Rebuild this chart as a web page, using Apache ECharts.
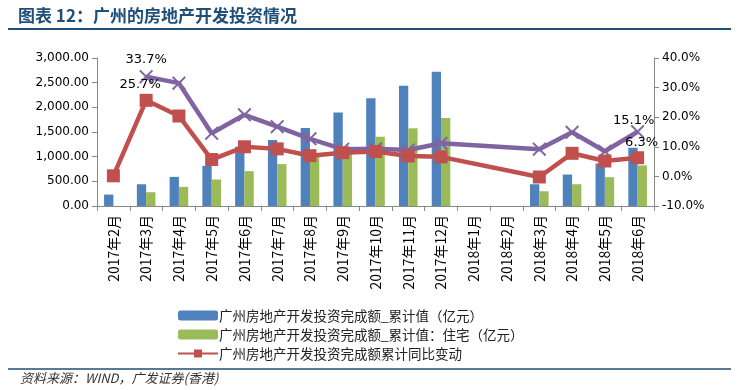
<!DOCTYPE html>
<html><head><meta charset="utf-8">
<script src="https://cdn.jsdelivr.net/npm/echarts@6/dist/echarts.min.js"></script>
<style>html,body{margin:0;padding:0;background:#fff}#c{width:739px;height:390px}</style>
</head><body><div id="c"></div>
<script>
var categories = ['2017年2月','2017年3月','2017年4月','2017年5月','2017年6月','2017年7月','2017年8月','2017年9月','2017年10月','2017年11月','2017年12月','2018年1月','2018年2月','2018年3月','2018年4月','2018年5月','2018年6月'];
var totalValues = [232, 441, 590, 814, 1203, 1337, 1581, 1893, 2185, 2436, 2721, null, null, 441, 638, 862, 1181];
var residentialValues = [null, 279, 387, 537, 706, 849, 1000, 1130, 1404, 1575, 1785, null, null, 299, 441, 584, 822];
var totalYoY = [0.2, 25.7, 20.4, 5.7, 10.0, 9.3, 7.0, 8.0, 8.4, 6.9, 6.6, null, null, -0.2, 7.8, 5.2, 6.3];
var residentialYoY = [null, 33.7, 31.5, 14.6, 20.8, 16.8, 12.7, 9.2, 9.3, 8.9, 11.2, null, null, 9.2, 14.9, 8.5, 15.1];
var leftTicks = {min: 0, max: 3000, interval: 500};
var rightTicks = {min: -10, max: 40, interval: 10};
var seriesNames = ['广州房地产开发投资完成额_累计值（亿元）','广州房地产开发投资完成额_累计值：住宅（亿元）','广州房地产开发投资完成额累计同比变动','住宅投资累计同比'];
var labeledIdx = [1, 16];
</script>
<script>
var chart = echarts.init(document.getElementById('c'), null, {renderer:'canvas'});
var numFont = 'DejaVu Sans';
var cjk = '"Noto Sans CJK SC", "DejaVu Sans", sans-serif';
function withLabels(arr, offset){
  return arr.map(function(v,i){
    var k = labeledIdx.indexOf(i);
    if (k >= 0 && v != null) {
      return {value: v, label: {show: true, position: 'top', offset: offset[k], formatter: function(p){return p.value.toFixed(1)+'%';}, color:'#000', fontSize: 13, fontFamily: numFont}};
    }
    return v;
  });
}
var xSym = 'path://M1,0 L5,4 L9,0 L10,1 L6,5 L10,9 L9,10 L5,6 L1,10 L0,9 L4,5 L0,1 Z';
var option = {
  animation: false,
  backgroundColor: '#fff',
  graphic: [
    {type:'text', left: 18, top: 7, style:{text:'图表 12：广州的房地产开发投资情况', font:'bold 17px "Noto Sans CJK SC", sans-serif', fill:'#1F4E79'}},
    {type:'line', shape:{x1:8,y1:29,x2:731,y2:29}, style:{stroke:'#1F4E79', lineWidth:2}},
    {type:'line', shape:{x1:8,y1:369,x2:731,y2:369}, style:{stroke:'#1F4E79', lineWidth:1.5}},
    {type:'text', left: 20, top: 372, style:{text:'资料来源：WIND，广发证券(香港)', font:'italic 13px "Noto Sans CJK SC", sans-serif', fill:'#333'}}
  ],
  grid: {left: 97, right: 85, top: 58, bottom: 184},
  legend: {
    orient: 'vertical', left: 172, top: 303, itemWidth: 40, itemHeight: 10, itemGap: 4,
    data: [seriesNames[0], seriesNames[1], seriesNames[2]],
    textStyle: {fontSize: 13.5, fontFamily: cjk, color: '#222', lineHeight: 15, padding:[0,0,0,-4]}
  },
  xAxis: {
    type: 'category', data: categories,
    axisLine: {lineStyle: {color: '#888'}},
    axisTick: {show: true, length: 5, lineStyle:{color:'#888'}},
    axisLabel: {rotate: 90, fontSize: 14, fontFamily: cjk, color: '#000', interval: 0, margin: 9}
  },
  yAxis: [
    {type: 'value', min: leftTicks.min, max: leftTicks.max, interval: leftTicks.interval,
     axisLine: {show: true, lineStyle: {color: '#888'}}, axisTick: {show: true, length: 5, lineStyle:{color:'#888'}}, splitLine: {show: false},
     axisLabel: {fontSize: 12, fontFamily: numFont, color: '#000', margin: 8, formatter: function(v){return v.toLocaleString('en-US',{minimumFractionDigits:2, maximumFractionDigits:2});}}},
    {type: 'value', min: rightTicks.min, max: rightTicks.max, interval: rightTicks.interval, position: 'right',
     axisLine: {show: true, lineStyle: {color: '#888'}}, axisTick: {show: true, length: 5, lineStyle:{color:'#888'}}, splitLine: {show: false},
     axisLabel: {fontSize: 12, fontFamily: numFont, color: '#000', margin: 8, formatter: function(v){return v.toFixed(1)+'%';}}}
  ],
  series: [
    {name: seriesNames[0], type: 'bar', data: totalValues, barWidth: 9.3, barGap: '0%', itemStyle: {color: '#4F81BD'}},
    {name: seriesNames[1], type: 'bar', data: residentialValues, barWidth: 9.3, barGap: '0%', itemStyle: {color: '#9BBB59'}},
    {name: seriesNames[3], type: 'line', yAxisIndex: 1, data: withLabels(residentialYoY, [[0,1],[-4,7]]), connectNulls: true,
     symbol: xSym, symbolSize: 14, lineStyle: {color: '#8064A2', width: 4.5}, itemStyle: {color: '#8064A2'}},
    {name: seriesNames[2], type: 'line', yAxisIndex: 1, data: withLabels(totalYoY, [[-6,2],[4,3]]), connectNulls: true,
     symbol: 'rect', symbolSize: 13, lineStyle: {color: '#C0504D', width: 4.5}, itemStyle: {color: '#C0504D'}}
  ]
};
chart.setOption(option);
</script>
</body></html>
